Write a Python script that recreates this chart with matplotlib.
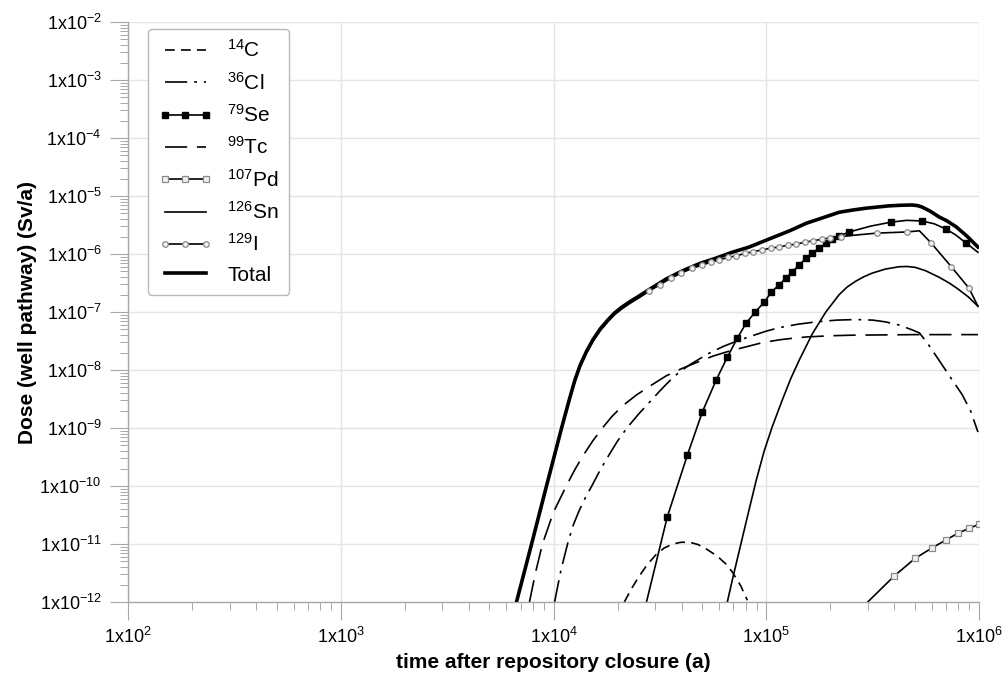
import numpy as np
import matplotlib
matplotlib.use("Agg")
import matplotlib.pyplot as plt
from matplotlib.ticker import LogLocator, FuncFormatter, NullFormatter

plt.rcParams["font.family"] = ["Liberation Sans", "DejaVu Sans"]
plt.rcParams["mathtext.fontset"] = "custom"
plt.rcParams["mathtext.rm"] = "Liberation Sans"
plt.rcParams["mathtext.it"] = "Liberation Sans:italic"
plt.rcParams["mathtext.bf"] = "Liberation Sans:bold"
plt.rcParams["lines.scale_dashes"] = False

# All series are given as log10(time / a) and log10(dose / (Sv/a))
c14_t = [4.333, 4.365, 4.400, 4.440, 4.480, 4.520, 4.560, 4.600, 4.640, 4.680,
         4.720, 4.770, 4.812, 4.840, 4.880, 4.911]
c14_d = [-12.0, -11.78, -11.57, -11.36, -11.19, -11.07, -11.00, -10.97, -10.97, -11.01,
         -11.09, -11.21, -11.35, -11.48, -11.72, -11.97]

cl36_t = [4.005, 4.035, 4.066, 4.090, 4.120, 4.150, 4.180, 4.220, 4.260, 4.300,
          4.345, 4.400, 4.450, 4.500, 4.545, 4.590, 4.640, 4.690, 4.732, 4.800,
          4.870, 4.934, 5.000, 5.061, 5.150, 5.235, 5.330, 5.420, 5.500, 5.560,
          5.620, 5.680, 5.720, 5.760, 5.810, 5.870, 5.920, 5.960, 5.995]
cl36_d = [-12.0, -11.45, -11.0, -10.70, -10.43, -10.20, -10.0, -9.72, -9.47, -9.23,
          -9.00, -8.76, -8.56, -8.36, -8.19, -8.04, -7.91, -7.80, -7.71, -7.59,
          -7.49, -7.41, -7.33, -7.27, -7.21, -7.17, -7.14, -7.13, -7.14, -7.17,
          -7.22, -7.30, -7.36, -7.55, -7.82, -8.15, -8.42, -8.70, -9.07]

se79_t = [4.437, 4.535, 4.629, 4.700, 4.765, 4.817, 4.864, 4.906, 4.948, 4.991,
          5.023, 5.061, 5.094, 5.122, 5.155, 5.188, 5.216, 5.249, 5.282, 5.310,
          5.343, 5.390, 5.490, 5.587, 5.660, 5.732, 5.790, 5.845, 5.890, 5.939,
          5.995]
se79_d = [-12.0, -10.53, -9.47, -8.72, -8.17, -7.78, -7.45, -7.19, -7.00, -6.83,
          -6.66, -6.53, -6.41, -6.31, -6.19, -6.07, -5.98, -5.90, -5.81, -5.75,
          -5.69, -5.62, -5.52, -5.45, -5.42, -5.43, -5.48, -5.57, -5.67, -5.81,
          -5.97]
se79_marks = list(range(1, 22)) + [23, 25, 27, 29]

tc99_t = [3.887, 3.915, 3.948, 4.000, 4.060, 4.100, 4.140, 4.185, 4.230, 4.275,
          4.324, 4.390, 4.465, 4.530, 4.600, 4.680, 4.750, 4.830, 4.906, 4.980,
          5.061, 5.130, 5.190, 5.300, 5.400, 5.700, 5.995]
tc99_d = [-12.0, -11.5, -11.0, -10.45, -10.0, -9.72, -9.47, -9.22, -9.00, -8.80,
          -8.62, -8.43, -8.25, -8.10, -7.98, -7.86, -7.76, -7.67, -7.60, -7.53,
          -7.48, -7.45, -7.43, -7.41, -7.40, -7.39, -7.39]

pd107_t = [5.477, 5.602, 5.699, 5.778, 5.845, 5.903, 5.954, 6.000]
pd107_d = [-12.0, -11.55, -11.25, -11.07, -10.93, -10.81, -10.73, -10.66]

sn126_t = [4.817, 4.845, 4.873, 4.910, 4.953, 4.990, 5.028, 5.075, 5.115, 5.155,
           5.216, 5.280, 5.343, 5.380, 5.420, 5.460, 5.498, 5.560, 5.624, 5.660,
           5.700, 5.750, 5.812, 5.860, 5.900, 5.950, 5.995]
sn126_d = [-12.0, -11.55, -11.12, -10.55, -9.90, -9.40, -8.98, -8.52, -8.15, -7.83,
           -7.38, -7.00, -6.70, -6.57, -6.47, -6.39, -6.33, -6.26, -6.22, -6.215,
           -6.23, -6.29, -6.40, -6.50, -6.60, -6.74, -6.90]

i129_t = [3.826, 3.897, 3.967, 4.038, 4.075, 4.100, 4.125, 4.155, 4.185, 4.220,
          4.255, 4.286, 4.320, 4.360, 4.400, 4.450, 4.500, 4.550, 4.600, 4.650,
          4.700, 4.740, 4.780, 4.820, 4.860, 4.900, 4.940, 4.980, 5.020, 5.060,
          5.100, 5.140, 5.180, 5.220, 5.260, 5.300, 5.350, 5.430, 5.520, 5.660,
          5.720, 5.775, 5.870, 5.953, 5.995]
i129_d = [-12.0, -11.02, -10.02, -9.02, -8.52, -8.21, -7.95, -7.71, -7.51, -7.32,
          -7.17, -7.05, -6.95, -6.85, -6.76, -6.64, -6.53, -6.42, -6.33, -6.25,
          -6.19, -6.14, -6.10, -6.06, -6.03, -5.99, -5.96, -5.93, -5.90, -5.88,
          -5.85, -5.83, -5.80, -5.77, -5.75, -5.72, -5.70, -5.67, -5.64, -5.62,
          -5.60, -5.81, -6.22, -6.59, -6.90]
i129_marks = list(range(15, 37)) + [38, 39, 41, 42, 43]

total_t = [3.826, 3.897, 3.967, 4.038, 4.075, 4.100, 4.125, 4.155, 4.185, 4.220,
           4.255, 4.286, 4.320, 4.360, 4.400, 4.451, 4.530, 4.606, 4.690, 4.765,
           4.840, 4.920, 5.028, 5.110, 5.188, 5.270, 5.343, 5.410, 5.470, 5.577,
           5.630, 5.685, 5.710, 5.732, 5.770, 5.812, 5.850, 5.892, 5.940, 5.995]
total_d = [-12.0, -11.0, -10.0, -9.0, -8.50, -8.18, -7.92, -7.68, -7.48, -7.29,
           -7.14, -7.02, -6.92, -6.82, -6.73, -6.61, -6.43, -6.29, -6.16, -6.07,
           -5.97, -5.88, -5.72, -5.60, -5.47, -5.37, -5.28, -5.24, -5.21, -5.17,
           -5.16, -5.155, -5.165, -5.19, -5.26, -5.36, -5.43, -5.53, -5.68, -5.88]

labels = [r"$^{14}$C", r"$^{36}$Cl", r"$^{79}$Se", r"$^{99}$Tc", r"$^{107}$Pd",
          r"$^{126}$Sn", r"$^{129}$I", "Total"]
xlabel = "time after repository closure (a)"
ylabel = "Dose (well pathway) (Sv/a)"


def pw(a):
    return 10.0 ** np.asarray(a)


fig = plt.figure(figsize=(10.08, 6.86), dpi=100)
ax = fig.add_axes([128 / 1008, 84 / 686, 851 / 1008, 580 / 686])
ax.set_xscale("log")
ax.set_yscale("log")

lw = 1.2
h = []
h += ax.plot(pw(c14_t), pw(c14_d), color="black", lw=lw, dashes=(7, 4.5))
h += ax.plot(pw(cl36_t), pw(cl36_d), color="black", lw=lw, dashes=(16, 5, 2, 5))
h += ax.plot(pw(se79_t), pw(se79_d), color="black", lw=lw, marker="s", ms=4.5,
             mfc="black", mec="black", markevery=se79_marks)
h += ax.plot(pw(tc99_t), pw(tc99_d), color="black", lw=lw, dashes=(16, 7))
h += ax.plot(pw(pd107_t), pw(pd107_d), color="black", lw=lw, marker="s", ms=4,
             mfc="#f2f2f2", mec="#8a8a8a", mew=0.9, markevery=list(range(1, len(pd107_t))))
h += ax.plot(pw(sn126_t), pw(sn126_d), color="black", lw=lw)
h += ax.plot(pw(i129_t), pw(i129_d), color="black", lw=lw, marker="o", ms=4,
             mfc="#f2f2f2", mec="#8a8a8a", mew=0.9, markevery=i129_marks, zorder=3)
h += ax.plot(pw(total_t), pw(total_d), color="black", lw=2.6, zorder=2.5)

ax.set_xlim(1e2, 1e6)
ax.set_ylim(1e-12, 1e-2)

ax.xaxis.set_major_locator(LogLocator(base=10, numticks=20))
ax.yaxis.set_major_locator(LogLocator(base=10, numticks=20))
ax.xaxis.set_minor_locator(LogLocator(base=10, subs=np.arange(2, 10), numticks=100))
ax.yaxis.set_minor_locator(LogLocator(base=10, subs=np.arange(2, 10), numticks=100))
ax.xaxis.set_minor_formatter(NullFormatter())
ax.yaxis.set_minor_formatter(NullFormatter())
fmt = FuncFormatter(lambda v, p: r"1x10$^{%d}$" % int(round(np.log10(v))))
ax.xaxis.set_major_formatter(fmt)
ax.yaxis.set_major_formatter(fmt)

grey = "#a8a8a8"
ax.grid(True, which="major", color="#e4e4e4", lw=1.0)
ax.set_axisbelow(True)
for s in ("top", "right"):
    ax.spines[s].set_visible(False)
for s in ("left", "bottom"):
    ax.spines[s].set_color(grey)
    ax.spines[s].set_linewidth(1.0)
ax.tick_params(which="major", direction="out", length=13, width=0.8, color=grey,
               labelsize=13, labelcolor="black")
ax.tick_params(which="minor", direction="out", length=6, width=0.7, color=grey)
ax.tick_params(axis="x", which="major", pad=5)
ax.tick_params(axis="y", which="major", pad=6)

ax.set_xlabel(xlabel, fontsize=15, fontweight="bold", labelpad=4)
ax.set_ylabel(ylabel, fontsize=15, fontweight="bold", labelpad=2)

leg = ax.legend(h, labels, loc="upper left", bbox_to_anchor=(0.0235, 0.988),
                borderaxespad=0, fontsize=15, numpoints=3, handlelength=2.6,
                handletextpad=0.7, labelspacing=0.5, borderpad=0.5,
                frameon=True, fancybox=True, framealpha=1.0)
leg.get_frame().set_edgecolor("#b8b8b8")
leg.get_frame().set_linewidth(1.0)

fig.savefig("out.png", dpi=100)
